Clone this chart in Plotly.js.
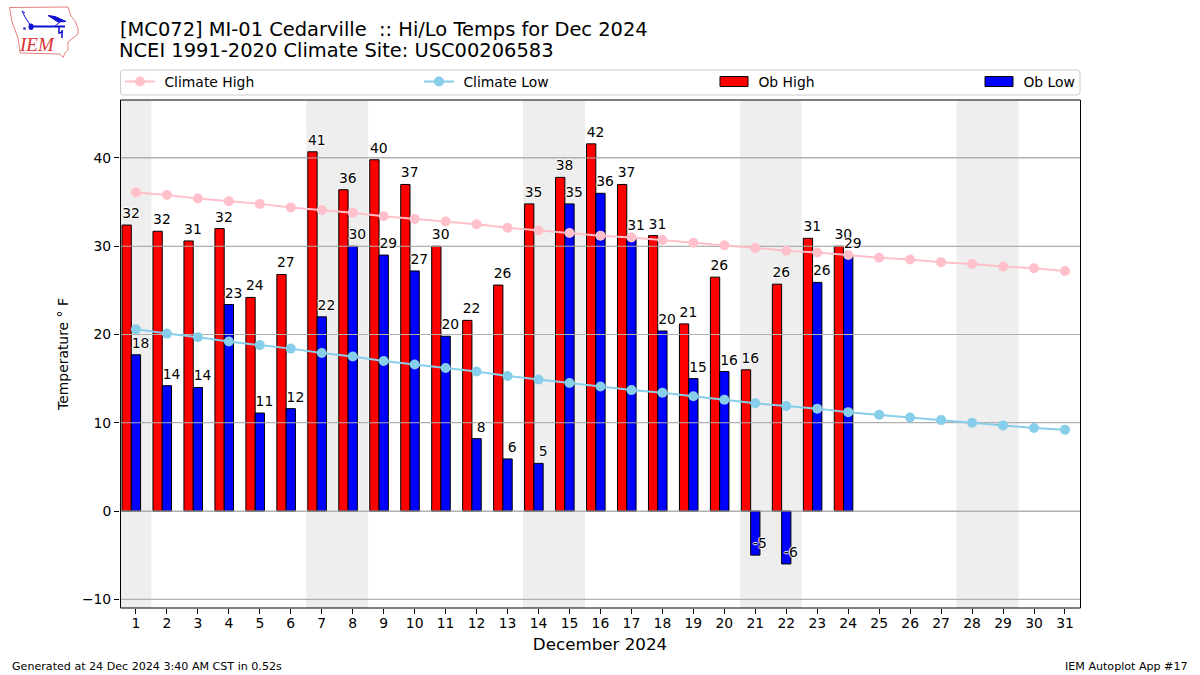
<!DOCTYPE html>
<html>
<head>
<meta charset="utf-8">
<script src="https://cdn.plot.ly/plotly-3.0.1.min.js"></script>
<style>html,body{margin:0;padding:0;background:#fff}</style>
</head>
<body>
<div id="chart" style="width:1200px;height:675px"></div>
<script>
const days = [1,2,3,4,5,6,7,8,9,10,11,12,13,14,15,16,17,18,19,20,21,22,23,24,25,26,27,28,29,30,31];
const climateHigh = [36.1,35.8,35.4,35.1,34.8,34.4,34.1,33.8,33.4,33.1,32.8,32.5,32.1,31.8,31.5,31.2,31.0,30.7,30.4,30.1,29.8,29.5,29.3,29.0,28.7,28.5,28.2,28.0,27.7,27.5,27.2];
const climateLow = [20.6,20.1,19.7,19.2,18.8,18.4,17.9,17.5,17.0,16.6,16.2,15.8,15.3,14.9,14.5,14.1,13.7,13.4,13.0,12.6,12.2,11.9,11.6,11.2,10.9,10.6,10.3,10.0,9.7,9.4,9.2];
const obDays = [1,2,3,4,5,6,7,8,9,10,11,12,13,14,15,16,17,18,19,20,21,22,23,24];
const obHigh = [32.4,31.7,30.6,32.0,24.2,26.8,40.7,36.4,39.8,37.0,30.0,21.6,25.6,34.8,37.8,41.6,37.0,31.2,21.2,26.5,16.0,25.7,30.9,30.0];
const obLow = [17.7,14.2,14.0,23.4,11.1,11.6,22.0,30.0,29.0,27.2,19.8,8.2,5.9,5.4,34.8,36.0,31.0,20.4,15.0,15.8,-5.0,-6.0,25.9,29.0];
const highLabels = ["32","32","31","32","24","27","41","36","40","37","30","22","26","35","38","42","37","31","21","26","16","26","31","30"];
const lowLabels = ["18","14","14","23","11","12","22","30","29","27","20","8","6","5","35","36","31","20","15","16","-5","-6","26","29"];
const weekendSpans = [[0.5,1.5],[6.5,8.5],[13.5,15.5],[20.5,22.5],[27.5,29.5]];
const yTicks = [-10,0,10,20,30,40];

const FONT = "DejaVu Sans, sans-serif";
const px = v => (v - 120) / 960;
const py = v => (608 - v) / 508;
const pathOf = (pts, close) => pts.map((p, i) => (i ? "L" : "M") + px(p[0]).toFixed(5) + "," + py(p[1]).toFixed(5)).join(" ") + (close ? " Z" : "");

const gridX = [], gridY = [];
yTicks.forEach(t => { gridX.push(0.4, 31.6, null); gridY.push(t, t, null); });

const halo = "1px 0 1px #fff, -1px 0 1px #fff, 0 1px 1px #fff, 0 -1px 1px #fff";

const traces = [
  {type:"scatter", mode:"lines", x:gridX, y:gridY, line:{color:"#b0b0b0", width:1}, showlegend:false, hoverinfo:"skip", zorder:1},
  {type:"scatter", mode:"lines+markers", name:"\u00A0Climate High", x:days, y:climateHigh, legend:"legend",
   line:{color:"#FFC0CB", width:2}, marker:{color:"#FFC0CB", size:10}, zorder:2},
  {type:"scatter", mode:"lines+markers", name:"\u00A0Climate Low", x:days, y:climateLow, legend:"legend2",
   line:{color:"#87CEEB", width:2}, marker:{color:"#87CEEB", size:10}, zorder:2},
  {type:"bar", name:"\u00A0Ob High", x:obDays, y:obHigh, width:0.3, offset:-0.45, legend:"legend3",
   marker:{color:"#ff0000", line:{color:"#000", width:1}}, zorder:0},
  {type:"bar", name:"\u00A0Ob Low", x:obDays, y:obLow, width:0.3, offset:-0.15, legend:"legend4",
   marker:{color:"#0000ff", line:{color:"#000", width:1}}, zorder:0},
  {type:"scatter", mode:"markers+text", x:obDays.map(d => d - 0.16), y:obHigh, text:highLabels, textposition:"top center",
   marker:{size:4, opacity:0}, textfont:{family:FONT, size:13.9, color:"#000", shadow:halo}, showlegend:false, hoverinfo:"skip", zorder:3},
  {type:"scatter", mode:"markers+text", x:obDays.map(d => d + 0.15), y:obLow, text:lowLabels, textposition:"top center",
   marker:{size:4, opacity:0}, textfont:{family:FONT, size:13.9, color:"#000", shadow:halo}, showlegend:false, hoverinfo:"skip", zorder:3}
];

const shapes = weekendSpans.map(s => ({type:"rect", xref:"x", yref:"paper", x0:s[0], x1:s[1], y0:0, y1:1,
  fillcolor:"#eeeeee", line:{width:0}, layer:"below"}));

// plot frame
shapes.push({type:"rect", xref:"paper", yref:"paper", x0:px(120.5), x1:px(1080.5), y0:0, y1:1, layer:"above", fillcolor:"rgba(0,0,0,0)", line:{color:"#000", width:1}});

// legend frame
shapes.push({type:"path", xref:"paper", yref:"paper", layer:"below", fillcolor:"#fff", line:{color:"#cccccc", width:1},
  path:`M${px(123)},${py(70)} L${px(1077)},${py(70)} Q${px(1080)},${py(70)} ${px(1080)},${py(73)} L${px(1080)},${py(92)} Q${px(1080)},${py(95)} ${px(1077)},${py(95)} L${px(123)},${py(95)} Q${px(120.5)},${py(95)} ${px(120.5)},${py(92)} L${px(120.5)},${py(73)} Q${px(120.5)},${py(70)} ${px(123)},${py(70)} Z`});

// IEM logo
const logoLines = (pts, color, w, fill) => ({type:"path", xref:"paper", yref:"paper", path:pathOf(pts, !!fill), layer:"above",
  line:{color, width:w}, fillcolor:fill || "rgba(0,0,0,0)"});
shapes.push(logoLines([[9.5,7.5],[68,7],[71,16],[75,21],[78,28],[78,34],[73,38],[68,42],[68,50],[65,53],[63,57.5],[60,54],[20,53],[19,44],[18,38],[12,22],[9.5,7.5]], "#e58080", 1));
shapes.push(logoLines([[31,26.5],[65,26.5]], "#1010d0", 2));
shapes.push(logoLines([[48,15.5],[55,16.5],[66,21.5],[58,22],[48,15.5]], "#1010d0", 1, "#1010d0"));
shapes.push(logoLines([[55,26],[60,22]], "#1010d0", 1));
shapes.push(logoLines([[22,11],[25,17],[31,26]], "#1010d0", 1));
shapes.push(logoLines([[22,11],[25,13]], "#1010d0", 1));
shapes.push(logoLines([[59,27],[59,33],[63,32]], "#1010d0", 1.5));
shapes.push(logoLines([[62,30],[62,38]], "#1010d0", 1.5));
shapes.push({type:"circle", xref:"paper", yref:"paper", x0:px(28.5), x1:px(33.5), y0:py(30), y1:py(23.5), fillcolor:"#1010d0", line:{width:0}});
shapes.push({type:"circle", xref:"paper", yref:"paper", x0:px(23), x1:px(26), y0:py(30), y1:py(27), fillcolor:"#5050c0", line:{width:0}});

const annotations = [
  {xref:"paper", yref:"paper", x:px(37), y:py(45), xanchor:"center", yanchor:"middle", text:"IEM", showarrow:false, font:{family:"Liberation Serif, serif", size:19, color:"#d83030", style:"italic"}},
  {xref:"paper", yref:"paper", x:px(117), y:py(51), xanchor:"left", yanchor:"middle", text:"NCEI 1991-2020 Climate Site: USC00206583", showarrow:false, font:{family:FONT, size:19.44, color:"#000"}},
  {xref:"paper", yref:"paper", x:px(10), y:py(666), xanchor:"left", yanchor:"middle", text:"Generated at 24 Dec 2024 3:40 AM CST in 0.52s", showarrow:false, font:{family:FONT, size:11.1, color:"#000"}},
  {xref:"paper", yref:"paper", x:px(1190), y:py(666), xanchor:"right", yanchor:"middle", text:"IEM Autoplot App #17", showarrow:false, font:{family:FONT, size:11.1, color:"#000"}}
];

const legendBase = {orientation:"v", bgcolor:"rgba(0,0,0,0)", borderwidth:0, yanchor:"middle", xanchor:"left", y:py(82), font:{family:FONT, size:13.9, color:"#000"}, itemwidth:30, tracegroupgap:0};

const layout = {
  width:1200, height:675, autosize:false,
  margin:{l:120, r:120, t:100, b:67, pad:0},
  paper_bgcolor:"#fff", plot_bgcolor:"#fff",
  barmode:"overlay", showlegend:true, hovermode:false,
  title:{text:"[MC072] MI-01 Cedarville\u00A0\u00A0:: Hi/Lo Temps for Dec 2024",
    x:0.1, xref:"container", xanchor:"left", y:1-29/675, yref:"container", yanchor:"middle", font:{family:FONT, size:19.44, color:"#000"}},
  xaxis:{range:[0.485,31.485], tickmode:"array", tickvals:days, ticktext:days.map(String), tickangle:0, ticks:"outside", ticklen:5, tickcolor:"#000", tickwidth:1,
    ticklabelstandoff:-3, showline:false, showgrid:false, zeroline:false,
    tickfont:{family:FONT, size:13.9, color:"#000"},
    title:{text:"December 2024", standoff:8, font:{family:FONT, size:16.7, color:"#000"}}},
  yaxis:{range:[-10.99,46.57], tickmode:"array", tickvals:yTicks, ticktext:yTicks.map(t => t < 0 ? "\u2212" + (-t) : String(t)), ticks:"outside", ticklen:5, tickcolor:"#000", tickwidth:1,
    showline:false, showgrid:true, gridcolor:"#b0b0b0", gridwidth:1, zeroline:false,
    tickfont:{family:FONT, size:13.9, color:"#000"},
    title:{text:"Temperature \u00B0 F", standoff:10, font:{family:FONT, size:13.9, color:"#000"}}},
  legend:Object.assign({}, legendBase, {x:px(120)}),
  legend2:Object.assign({}, legendBase, {x:px(419)}),
  legend3:Object.assign({}, legendBase, {x:px(714)}),
  legend4:Object.assign({}, legendBase, {x:px(979)}),
  shapes, annotations
};

function tidyLegend(gd) {
  gd.querySelectorAll(".legendpoints path").forEach(p => {
    const d = p.getAttribute("d") || "";
    if (d.replace(/\s/g, "").startsWith("M6,6")) p.setAttribute("d", "M14,5H-14V-5H14Z");
  });
}
Plotly.newPlot("chart", traces, layout, {displayModeBar:false, staticPlot:true}).then(gd => {
  tidyLegend(gd);
  setTimeout(() => tidyLegend(gd), 50);
});
</script>
</body>
</html>
